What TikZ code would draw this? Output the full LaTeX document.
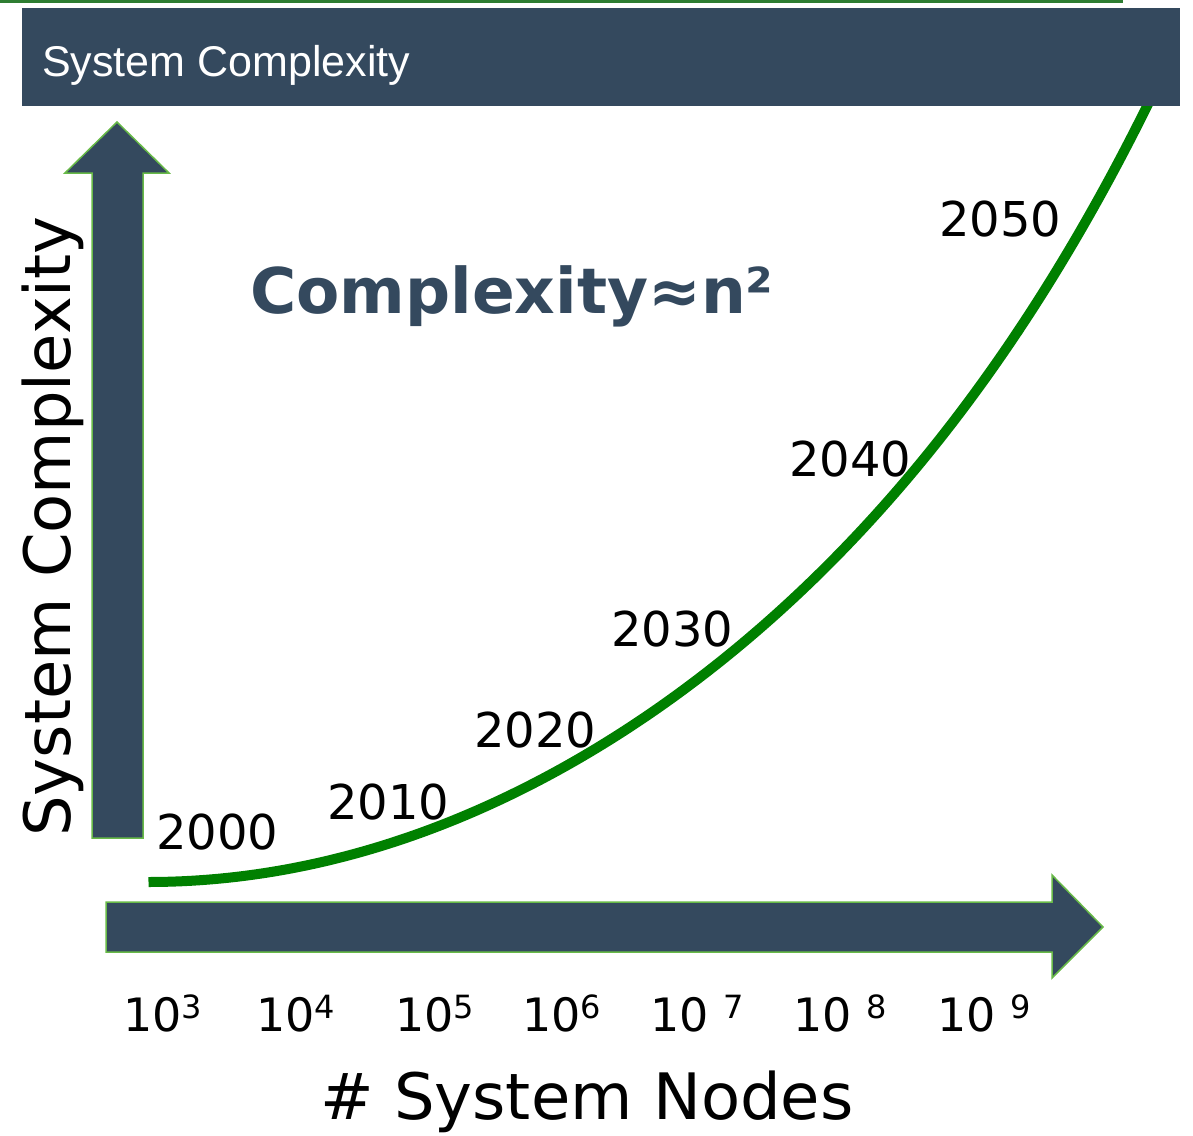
\documentclass[tikz,border=0pt]{standalone}
\usepackage{fontspec}
\setmainfont{DejaVu Sans}
\newfontfamily\bannerfont{Liberation Sans}
\usepackage{xcolor}
\usepackage{tikz}
\usetikzlibrary{positioning}

\definecolor{slate}{RGB}{52,73,94}
\definecolor{edgegreen}{RGB}{104,186,72}
\definecolor{topgreen}{RGB}{46,125,50}
\definecolor{curvegreen}{RGB}{0,128,0}

% raised power on the node counts
\newcommand{\expo}[1]{\raisebox{0.28em}{\fontsize{32}{34}\selectfont #1}}

\begin{document}
\begin{tikzpicture}[x=1pt, y=-1pt, inner sep=0pt,
        bigarrow/.style={fill=slate, draw=edgegreen, line width=1.5pt},
        year/.style={anchor=base west, font=\fontsize{48}{52}\selectfont},
        tick/.style={anchor=base west, font=\fontsize{46}{50}\selectfont},
        axislabel/.style={anchor=base west, font=\fontsize{64}{68}\selectfont}]
        \useasboundingbox (0,0) rectangle (1193,1135);

        % thin line along the top
        \fill[topgreen] (0,0) rectangle (1123,3);

        % growth curve
        \draw[curvegreen, line width=10pt] plot[domain=148.5:1155, samples=90, smooth]
            (\x, {882 - 6.608*((\x-148)/100)^2 - (0.010826*((\x-148)/100)^3)^2});

        % banner
        \fill[slate] (22,8) rectangle (1180,106);
        \node (banner) [anchor=base west, text=white, font=\bannerfont\fontsize{43}{47}\selectfont] at (42,76) {System Complexity};

        % axis arrows
        \filldraw[bigarrow] (92,838) -- (92,173) -- (65,173) -- (117,122) -- (169,173) -- (143,173) -- (143,838) -- cycle;
        \filldraw[bigarrow] (106,902) -- (1052,902) -- (1052,875) -- (1103,927) -- (1052,978) -- (1052,952) -- (106,952) -- cycle;

        \node (yaxis) [axislabel, rotate=90] at (70,837) {System Complexity};
        \node (xaxis) [axislabel] at (320,1119) {\# System Nodes};

        \node (law) [anchor=base west, text=slate, font=\bfseries\fontsize{63}{68}\selectfont] at (250,313) {Complexity≈n²};

        % years along the curve
        \node (y2000) [year] at (156,849) {2000};
        \node (y2010) [year] at (327,819) {2010};
        \node (y2020) [year] at (474,747) {2020};
        \node (y2030) [year] at (611,646) {2030};
        \node (y2040) [year] at (789,476) {2040};
        \node (y2050) [year] at (939,236) {2050};

        % node counts under the axis
        \node (t3) [tick] at (123,1031) {10\expo{3}};
        \node (t4) [tick] at (256,1031) {10\expo{4}};
        \node (t5) [tick] at (395,1031) {10\expo{5}};
        \node (t6) [tick] at (522,1031) {10\expo{6}};
        \node (t7) [tick] at (650,1031) {10 \expo{7}};
        \node (t8) [tick] at (793,1031) {10 \expo{8}};
        \node (t9) [tick] at (937,1031) {10 \expo{9}};
\end{tikzpicture}
\end{document}
